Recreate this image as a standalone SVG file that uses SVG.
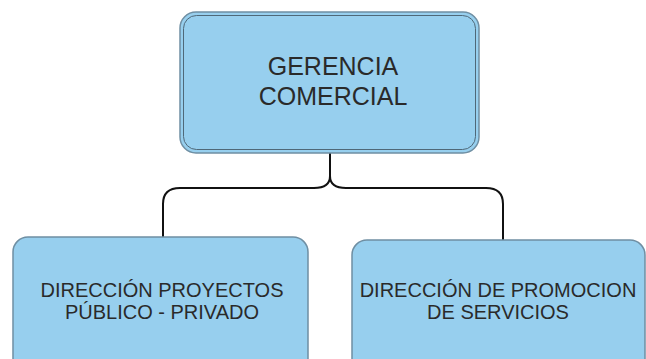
<svg xmlns="http://www.w3.org/2000/svg" width="646" height="359" viewBox="0 0 646 359">
<style>
.box{fill:#97cfee;stroke:#6f8fa3;stroke-width:1.5}
.inner{fill:none;stroke:#4f6878;stroke-width:1}
.t{font-family:"Liberation Sans",Arial,sans-serif;fill:#2a2a2a;text-anchor:middle}
.conn{fill:none;stroke:#111;stroke-width:2}
</style>
<rect width="646" height="359" fill="#ffffff"/>
<g id="connectors">
<path class="conn" d="M330,152 V176"/>
<path class="conn" d="M163,238 V204 Q163,188 180,188 H314 Q330,188 330,176 Q330,188 346,188 H486 Q503,188 503,204 V240"/>
</g>
<g id="gerencia">
<rect class="box" x="180" y="12" width="299" height="141" rx="16"/>
<rect class="inner" x="183.5" y="15.5" width="292" height="134" rx="13"/>
<text class="t" x="333" y="75" font-size="25">GERENCIA</text>
<text class="t" x="333" y="105" font-size="25">COMERCIAL</text>
</g>
<g id="proyectos">
<rect class="box" x="13" y="237" width="295" height="140" rx="15"/>
<text class="t" x="162" y="297" font-size="20">DIRECCIÓN PROYECTOS</text>
<text class="t" x="162" y="319" font-size="20">PÚBLICO - PRIVADO</text>
</g>
<g id="promocion">
<rect class="box" x="352" y="240" width="293" height="140" rx="15"/>
<text class="t" x="498" y="297" font-size="20">DIRECCIÓN DE PROMOCION</text>
<text class="t" x="498" y="319" font-size="20">DE SERVICIOS</text>
</g>
</svg>
